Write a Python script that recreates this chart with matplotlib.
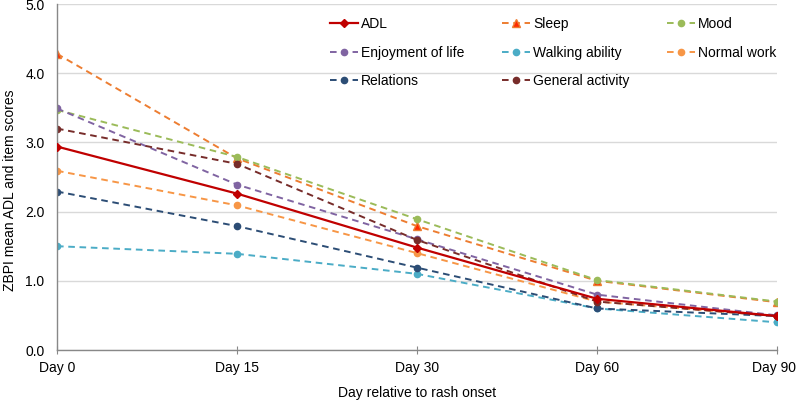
import numpy as np
import matplotlib.pyplot as plt
import matplotlib.transforms as mtransforms

plt.rcParams['font.family'] = ['Liberation Sans', 'DejaVu Sans']

# time points and series (ZBPI mean scores)
days = ['Day 0', 'Day 15', 'Day 30', 'Day 60', 'Day 90']
adl = [2.94, 2.26, 1.48, 0.74, 0.49]
sleep = [4.28, 2.77, 1.79, 1.0, 0.69]
mood = [3.47, 2.79, 1.89, 1.01, 0.7]
enjoyment = [3.49, 2.39, 1.6, 0.8, 0.5]
walking = [1.5, 1.39, 1.1, 0.6, 0.4]
normal_work = [2.59, 2.09, 1.4, 0.7, 0.49]
relations = [2.29, 1.79, 1.19, 0.6, 0.49]
general_activity = [3.2, 2.69, 1.59, 0.7, 0.49]


def main():
    fig = plt.figure(figsize=(7.97, 4.0), dpi=100)
    ax = fig.add_axes([0.0715, 0.125, 0.9035, 0.865])
    x = np.arange(len(days))
    dash = (0, (3.4, 2.4))

    h_adl, = ax.plot(x, adl, color='#C00000', lw=1.6, marker='D', ms=4.5, label='ADL', zorder=5)
    h_sleep, = ax.plot(x, sleep, color='#ED7D31', lw=1.4, ls=dash, marker='^', ms=6,
                       mfc='#FF2A00', mec='#ED7D31', label='Sleep')
    h_mood, = ax.plot(x, mood, color='#9BBB59', lw=1.4, ls=dash, marker='o', ms=4.5, label='Mood')
    h_enj, = ax.plot(x, enjoyment, color='#8064A2', lw=1.4, ls=dash, marker='o', ms=4.5,
                     label='Enjoyment of life')
    h_walk, = ax.plot(x, walking, color='#4BACC6', lw=1.4, ls=dash, marker='o', ms=4.5,
                      label='Walking ability')
    h_work, = ax.plot(x, normal_work, color='#F79646', lw=1.4, ls=dash, marker='o', ms=4.5,
                      label='Normal work')
    h_rel, = ax.plot(x, relations, color='#2C4D75', lw=1.4, ls=dash, marker='o', ms=4.5,
                     label='Relations')
    h_gen, = ax.plot(x, general_activity, color='#772C2A', lw=1.4, ls=dash, marker='o', ms=4.5,
                     label='General activity')

    ax.set_xlim(0, 4)
    ax.set_ylim(0, 5)
    ax.set_xticks(x)
    ax.set_xticklabels(days)
    ax.set_yticks(np.arange(0, 5.1, 1.0))
    ax.set_yticklabels(['%.1f' % v for v in np.arange(0, 5.1, 1.0)])
    ax.tick_params(axis='x', direction='inout', length=6, color='#888888', labelsize=10, pad=5)
    ax.tick_params(axis='y', length=0, labelsize=10, pad=9)
    ax.grid(axis='y', color='#D9D9D9', lw=1)
    ax.set_axisbelow(True)
    for s in ['top', 'right']:
        ax.spines[s].set_visible(False)
    for s in ['left', 'bottom']:
        ax.spines[s].set_color('#888888')
        ax.spines[s].set_linewidth(1)

    # nudge the last tick label so it stays inside the picture
    last = ax.get_xticklabels()[-1]
    last.set_transform(last.get_transform() +
                       mtransforms.ScaledTranslation(-3 / 100, 0, fig.dpi_scale_trans))

    ax.set_xlabel('Day relative to rash onset', fontsize=10, labelpad=8)
    ax.set_ylabel('ZBPI mean ADL and item scores', fontsize=10)
    ax.yaxis.set_label_coords(-0.056, 0.462)

    # legend filled row by row like the original
    handles = [h_adl, h_enj, h_rel, h_sleep, h_walk, h_gen, h_mood, h_work]
    ax.legend(handles=handles, ncol=3, loc='upper left', bbox_to_anchor=(0.362, 0.998),
              frameon=False, fontsize=10, handlelength=2.0, handletextpad=0.2,
              columnspacing=2.75, labelspacing=1.05)

    fig.savefig('out.png', dpi=100)


if __name__ == '__main__':
    main()
